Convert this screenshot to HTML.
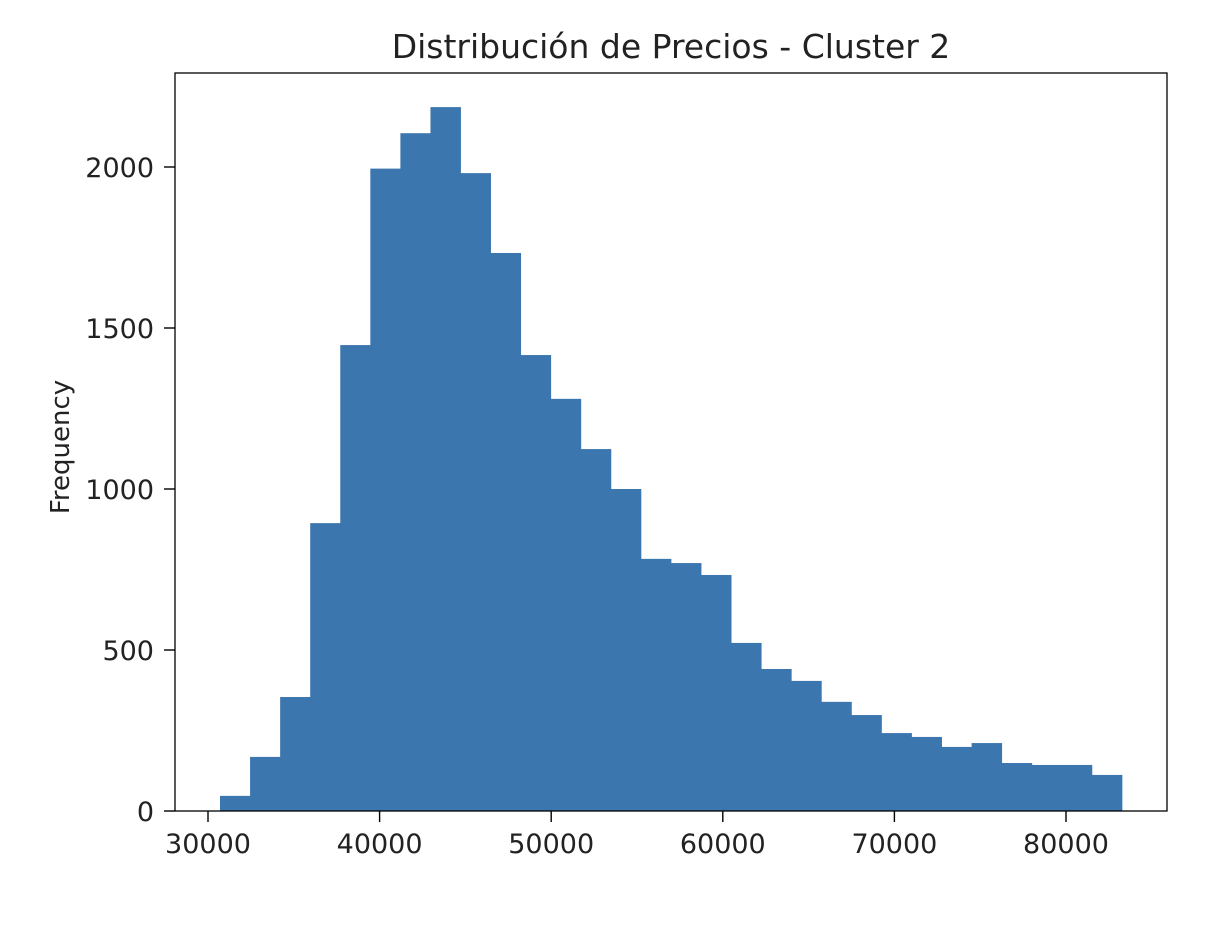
<!DOCTYPE html>
<html><head><meta charset="utf-8"><style>
body{margin:0;background:#fff;}
svg text{font-family:"DejaVu Sans","Liberation Sans",sans-serif;fill:#222;}
</style></head><body>
<svg id="chart" width="1232" height="936" xmlns="http://www.w3.org/2000/svg">
<text x="671" y="58" font-size="33" text-anchor="middle">Distribución de Precios - Cluster 2</text>
<text x="0" y="0" font-size="26" text-anchor="middle" transform="translate(69,447) rotate(-90)">Frequency</text>
<g id="bars"></g>
<g id="axes"></g>
<rect x="175" y="73" width="992" height="738" fill="none" stroke="#000" stroke-width="1.3"/>
</svg>
<script>
const binStart = 30700;
const binWidth = 1752;
const counts = [47,168,354,894,1447,1995,2105,2186,1981,1733,1416,1280,1124,1000,783,770,733,522,441,404,339,298,242,230,199,211,149,143,143,112];
const xTicks = [30000,40000,50000,60000,70000,80000];
const yTicks = [0,500,1000,1500,2000];
const NS="http://www.w3.org/2000/svg";
const xs = v => 208 + (v-30000)*171.6/10000;
const ys = v => 811 - v*0.322;
const bars=document.getElementById('bars'), axes=document.getElementById('axes');
counts.forEach((c,i)=>{
  const r=document.createElementNS(NS,'rect');
  
  
  const x0=xs(binStart+i*binWidth), x1=xs(binStart+(i+1)*binWidth);
  r.setAttribute('x',x0);r.setAttribute('width',x1-x0+0.4);
  r.setAttribute('y',ys(c));r.setAttribute('height',811-ys(c));
  r.setAttribute('fill','#3b76af');
  bars.appendChild(r);
});
xTicks.forEach(t=>{
  const x=xs(t);
  const l=document.createElementNS(NS,'line');
  
  
  l.setAttribute('x1',x);l.setAttribute('x2',x);l.setAttribute('y1',811);l.setAttribute('y2',822);l.setAttribute('stroke','#000');l.setAttribute('stroke-width','1.4');
  axes.appendChild(l);
  const tx=document.createElementNS(NS,'text');
  
  
  tx.setAttribute('x',x);tx.setAttribute('y',853);tx.setAttribute('font-size','27');tx.setAttribute('text-anchor','middle');
  tx.textContent=t;axes.appendChild(tx);
});
yTicks.forEach(t=>{
  const y=ys(t);
  const l=document.createElementNS(NS,'line');
  
  
  l.setAttribute('x1',164);l.setAttribute('x2',175);l.setAttribute('y1',y);l.setAttribute('y2',y);l.setAttribute('stroke','#000');l.setAttribute('stroke-width','1.4');
  axes.appendChild(l);
  const tx=document.createElementNS(NS,'text');
  
  
  tx.setAttribute('x',154);tx.setAttribute('y',y+10);tx.setAttribute('font-size','27');tx.setAttribute('text-anchor','end');
  tx.textContent=t;axes.appendChild(tx);
});
</script>
</body></html>
